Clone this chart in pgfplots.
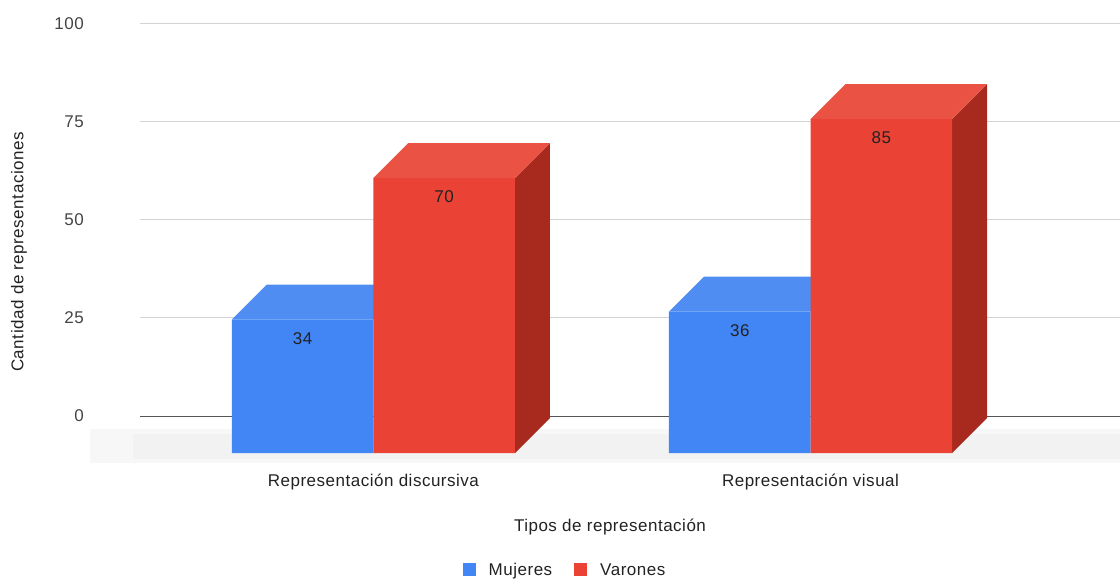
\documentclass[border=0pt]{standalone}
\usepackage{fontspec}
\setmainfont[LetterSpace=3]{Liberation Sans}
\usepackage{pgfplots}
\pgfplotsset{compat=1.18}

\definecolor{mujeres}{HTML}{4285F4}
\definecolor{mujerestop}{HTML}{4F8DF3}
\definecolor{varones}{HTML}{EA4335}
\definecolor{varonestop}{HTML}{EA5244}
\definecolor{varonesside}{HTML}{A8291E}
\definecolor{gridc}{HTML}{D3D3D3}
\definecolor{zeroc}{HTML}{555555}
\definecolor{txt}{HTML}{222222}
\definecolor{ticktxt}{HTML}{444444}

\begin{document}
\fontsize{17}{20}\selectfont
\begin{tikzpicture}
  \begin{axis}[
    scale only axis, width=980pt, height=448pt,
    xmin=-0.534, xmax=1.708, ymin=-2, ymax=112,
    clip=false,
    axis line style={draw=none},
    major tick length=0pt,
    /pgf/number format/assume math mode=true,
    xtick={0,1},
    xticklabels={Representación discursiva, Representación visual},
    xticklabel style={anchor=base, yshift=-26pt, text=txt},
    % 3D floor sits below the zero gridline: front faces start at 0
    ytick={9.415,34.415,59.415,84.415,109.415},
    yticklabels={0,25,50,75,100},
    yticklabel style={anchor=east, inner sep=0pt, xshift=-56pt, text=ticktxt},
    ymajorgrids,
    grid style={gridc, line width=0.8pt},
    extra y ticks={9.415},
    extra y tick labels={},
    extra y tick style={grid style={zeroc, line width=1.2pt}},
    xlabel={Tipos de representación},
    xlabel style={at={(axis description cs:0.4796,0)}, anchor=base, yshift=-71pt, text=txt},
    ylabel={Cantidad de representaciones},
    ylabel style={at={(axis description cs:-0.1235,0.4665)}, anchor=center, text=txt},
    legend style={at={(axis description cs:0.4337,-0.2455)}, anchor=center,
      draw=none, fill=none, legend columns=2, text=txt,
      /tikz/every odd column/.append style={column sep=11pt},
      /tikz/every even column/.append style={column sep=20pt}},
  ]
    % floor shadow
    \fill[black!3] (axis cs:-0.649,-2.6) rectangle (axis cs:1.708,6.2);
    \fill[black!5] (axis cs:-0.55,-1.6) rectangle (axis cs:1.708,4.8);

    % Mujeres: top faces
    \addplot[fill=mujerestop, draw=none, forget plot] coordinates {
      (-0.3238,34) (0,34) (0.0801,42.906) (-0.2437,42.906)};
    \addplot[fill=mujerestop, draw=none, forget plot] coordinates {
      (0.6762,36) (1,36) (1.0801,44.906) (0.7563,44.906)};
    % Mujeres: front faces
    \addplot[ybar, bar width=0.3238, bar shift=-0.1619, fill=mujeres, draw=none,
      nodes near coords,
      every node near coord/.append style={anchor=center, xshift=-70.75pt, yshift=-19pt, text=txt},
      legend image code/.code={\fill[mujeres] (0pt,-5pt) rectangle (13pt,8pt);}]
      coordinates {(0,34) (1,36)};
    \addlegendentry{Mujeres}

    % Varones: side faces
    \addplot[fill=varonesside, draw=none, forget plot] coordinates {
      (0.3238,0) (0.3238,70) (0.4039,78.906) (0.4039,8.906)};
    \addplot[fill=varonesside, draw=none, forget plot] coordinates {
      (1.3238,0) (1.3238,85) (1.4039,93.906) (1.4039,8.906)};
    % Varones: top faces
    \addplot[fill=varonestop, draw=none, forget plot] coordinates {
      (0,70) (0.3238,70) (0.4039,78.906) (0.0801,78.906)};
    \addplot[fill=varonestop, draw=none, forget plot] coordinates {
      (1,85) (1.3238,85) (1.4039,93.906) (1.0801,93.906)};
    % Varones: front faces
    \addplot[ybar, bar width=0.3238, bar shift=0.1619, fill=varones, draw=none,
      nodes near coords,
      every node near coord/.append style={anchor=center, xshift=70.75pt, yshift=-19pt, text=txt},
      legend image code/.code={\fill[varones] (0pt,-5pt) rectangle (13pt,8pt);}]
      coordinates {(0,70) (1,85)};
    \addlegendentry{Varones}
  \end{axis}
  \pgfresetboundingbox
  \path[use as bounding box] (current axis.south west) ++(-140pt,-119pt) rectangle ++(1120pt,580pt);
\end{tikzpicture}
\end{document}
